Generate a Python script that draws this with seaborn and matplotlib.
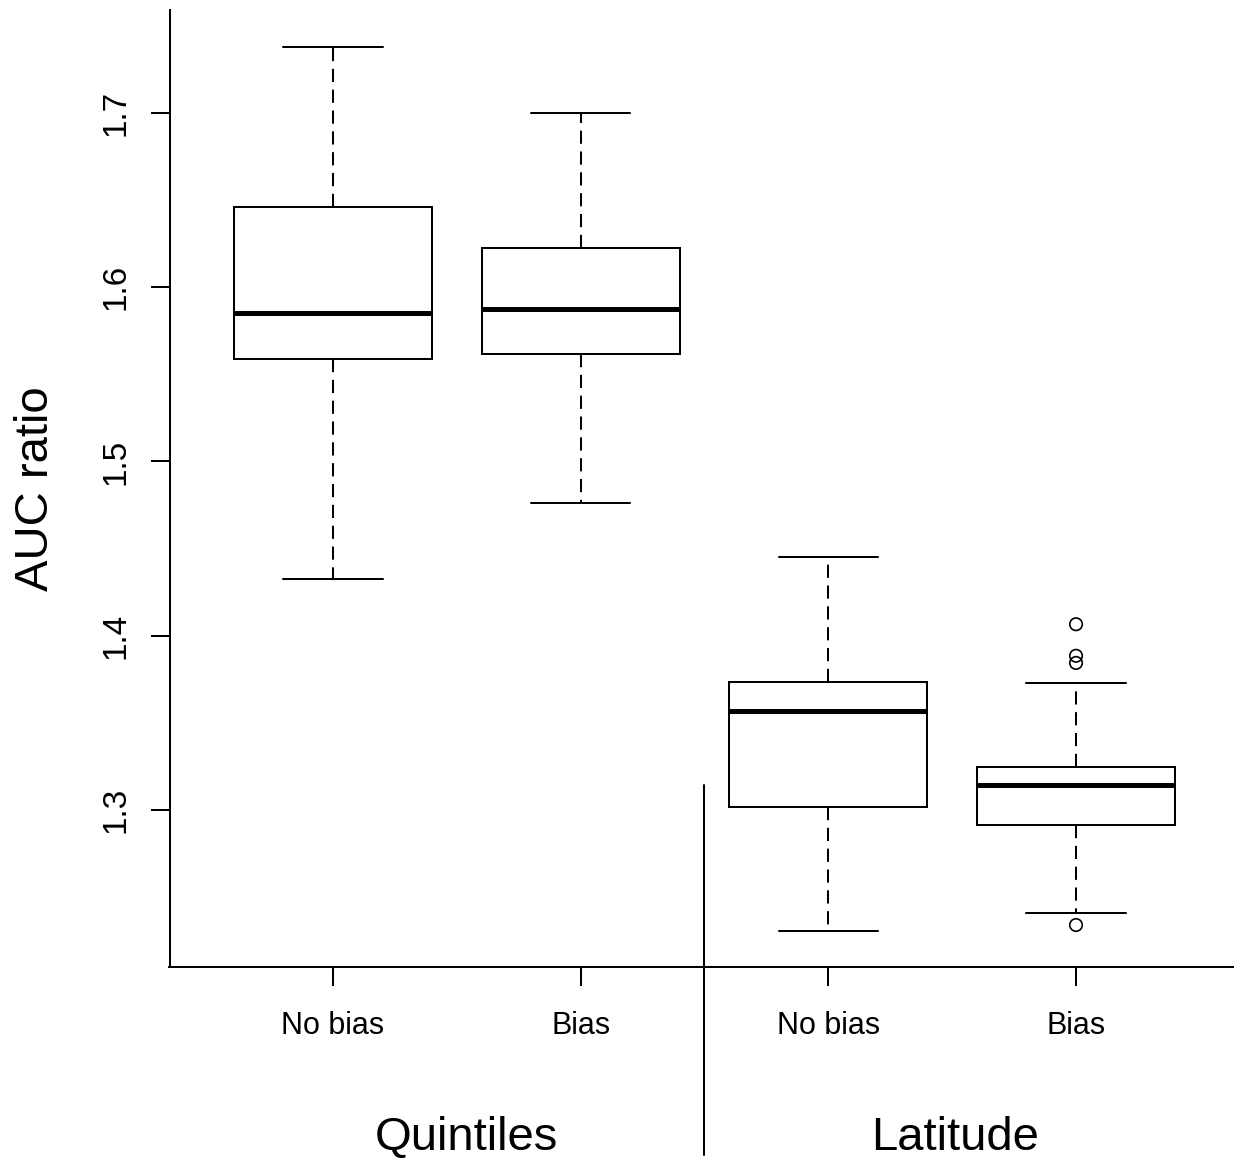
import numpy as np
import pandas as pd
import matplotlib
matplotlib.use("Agg")
import matplotlib.pyplot as plt
import matplotlib.transforms as mtransforms
import seaborn as sns

# ---------------- data ----------------
group_names = ["Quintiles", "Latitude"]
conditions = ["No bias", "Bias", "No bias", "Bias"]
box_keys = ["Quintiles / No bias", "Quintiles / Bias",
            "Latitude / No bias", "Latitude / Bias"]
whisker_low = [1.4327, 1.4759, 1.2306, 1.2407]
quartile_1 = [1.5587, 1.5616, 1.3017, 1.2914]
medians = [1.5851, 1.5874, 1.3570, 1.3143]
quartile_3 = [1.6459, 1.6224, 1.3736, 1.3244]
whisker_high = [1.7379, 1.7000, 1.4453, 1.3729]
outlier_key = "Latitude / Bias"
outlier_values = [1.4066, 1.3885, 1.3844, 1.2340]
y_ticks = [1.3, 1.4, 1.5, 1.6, 1.7]
y_tick_labels = ["1.3", "1.4", "1.5", "1.6", "1.7"]
y_label = "AUC ratio"

# five-number summaries -> 5 points per box; whis=(0,100) reproduces them exactly
rows = []
for k, lo, a, m, b, hi in zip(box_keys, whisker_low, quartile_1, medians,
                              quartile_3, whisker_high):
    for v in (lo, a, m, b, hi):
        rows.append({"box": k, "value": v})
box_df = pd.DataFrame(rows)
out_df = pd.DataFrame({"box": [outlier_key] * len(outlier_values),
                       "value": outlier_values})

# ---------------- style ----------------
sns.set_theme(style="ticks")
plt.rcParams["font.family"] = ["Liberation Sans", "DejaVu Sans"]
plt.rcParams["lines.scale_dashes"] = False

fig = plt.figure(figsize=(12.34, 11.59), dpi=100)
fig.patch.set_facecolor("white")
ax = fig.add_axes([169.5 / 1234, 192 / 1159, 1070 / 1234, 957 / 1159])
ax.set_facecolor("white")

lw = 1.45
sns.boxplot(data=box_df, x="box", y="value", order=box_keys, whis=(0, 100),
            width=0.8, color="white", saturation=1, linecolor="black",
            linewidth=lw, showfliers=False, ax=ax,
            medianprops={"linewidth": 3.6, "color": "black",
                         "solid_capstyle": "butt"},
            whiskerprops={"linestyle": (0, (9.5, 5.5)), "linewidth": lw,
                          "color": "black"},
            capprops={"linewidth": lw, "color": "black"})
sns.stripplot(data=out_df, x="box", y="value", order=box_keys, jitter=False,
              marker="o", size=9, facecolors="none", edgecolor="black",
              linewidth=1.2, ax=ax)

ax.set_xlim(-0.66, 3.66)
ax.set_ylim(1.2099, 1.7591)
ax.set_xticks(range(len(conditions)), labels=conditions)
ax.set_yticks(y_ticks, labels=y_tick_labels)
ax.set_xlabel("")
ax.set_ylabel(y_label, fontsize=34, color="black")
ax.yaxis.set_label_coords(-0.104, 0.5)

sns.despine(ax=ax)
for s in ["left", "bottom"]:
    ax.spines[s].set_linewidth(lw)
    ax.spines[s].set_color("black")
ax.tick_params(axis="both", direction="out", length=13.7, width=lw,
               color="black", labelcolor="black")
ax.tick_params(axis="x", pad=18, labelsize=22)
ax.tick_params(axis="y", pad=14, labelrotation=90, labelsize=24)
for t in ax.get_yticklabels():
    t.set_va("center")

# separator between the two groups and group titles
trans = mtransforms.blended_transform_factory(ax.transData, fig.transFigure)
ax.plot([1.5, 1.5], [1 - 785 / 1159, 1 - 1155 / 1159], transform=trans,
        color="black", lw=lw, clip_on=False)
ax.text(0.537, 9 / 1159, group_names[0], transform=trans, ha="center",
        va="baseline", fontsize=34, color="black")
ax.text(2.51, 9 / 1159, group_names[1], transform=trans, ha="center",
        va="baseline", fontsize=34, color="black")

fig.savefig("out.png", dpi=100, facecolor="white")
